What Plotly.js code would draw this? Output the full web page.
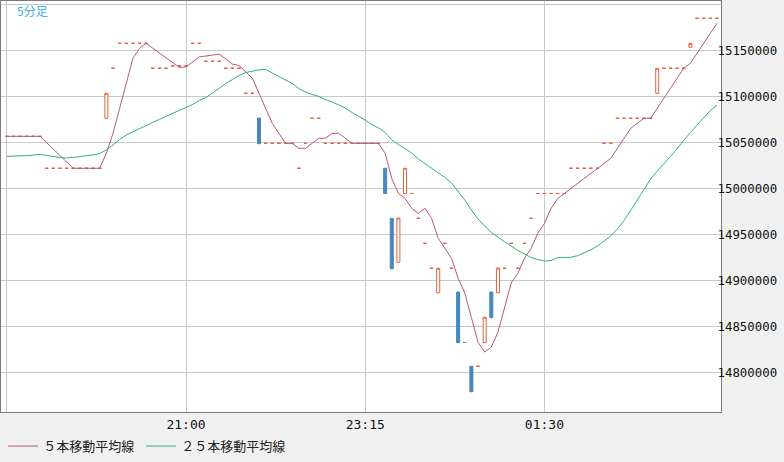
<!DOCTYPE html>
<html>
<head>
<meta charset="utf-8">
<script src="https://cdn.plot.ly/plotly-3.0.1.min.js"></script>
<style>
html,body{margin:0;padding:0;background:#f0f0f0;}
#chart{width:784px;height:462px;}
</style>
</head>
<body>
<div id="chart"></div>
<script>
// ---- data (5-minute candles starting 18:45) ----
const startTime = Date.UTC(2014, 2, 10, 18, 45);
const stepMinutes = 5;

const openPrices = [
  15056500,15056500,15056500,15056500,15056500,15056500,15021800,15021800,15021800,15021800,
  15021800,15021800,15021800,15021800,15021800,15076100,15130500,15157600,15157600,15157600,
  15157600,15157600,15130500,15130500,15130500,15133000,15133000,15133000,15157600,15157600,
  15138100,15138100,15138100,15130500,15130500,15130500,15103300,15103300,15076400,15048900,
  15048900,15048900,15048900,15048900,15021800,15048900,15076100,15076100,15048900,15048900,
  15048900,15048900,15048900,15048900,15048900,15048900,15048900,15021800,14967400,14919600,
  14994400,14994400,14967400,14940200,14913100,14886500,14940200,14913100,14887300,14832400,
  14806500,14806500,14832200,14887300,14886500,14913100,14940200,14913100,14940200,14967400,
  14994400,14994400,14994400,14994400,14994400,15021800,15021800,15021800,15021800,15021800,
  15048900,15048900,15076100,15076100,15076100,15076100,15076100,15076100,15103300,15130500,
  15130500,15130500,15130500,15153300,15184800,15184800,15184800,15184800
];
const highPrices = [
  15056500,15056500,15056500,15056500,15056500,15056500,15021800,15021800,15021800,15021800,
  15021800,15021800,15021800,15021800,15021800,15103300,15130500,15157600,15157600,15157600,
  15157600,15157600,15130500,15130500,15130500,15133000,15133000,15133000,15157600,15157600,
  15138100,15138100,15138100,15130500,15130500,15130500,15103300,15103300,15076400,15048900,
  15048900,15048900,15048900,15048900,15021800,15048900,15076100,15076100,15048900,15048900,
  15048900,15048900,15048900,15048900,15048900,15048900,15048900,15021800,14967400,14967700,
  15021800,14994400,14967400,14940200,14913100,14913100,14940200,14913100,14887300,14832400,
  14806500,14806500,14859800,14887300,14913400,14913100,14940200,14913100,14940200,14967400,
  14994400,14994400,14994400,14994400,14994400,15021800,15021800,15021800,15021800,15021800,
  15048900,15048900,15076100,15076100,15076100,15076100,15076100,15076100,15130500,15130500,
  15130500,15130500,15130500,15157600,15184800,15184800,15184800,15184800
];
const lowPrices = [
  15056500,15056500,15056500,15056500,15056500,15056500,15021800,15021800,15021800,15021800,
  15021800,15021800,15021800,15021800,15021800,15076100,15130500,15157600,15157600,15157600,
  15157600,15157600,15130500,15130500,15130500,15133000,15133000,15133000,15157600,15157600,
  15138100,15138100,15138100,15130500,15130500,15130500,15103300,15103300,15048500,15048900,
  15048900,15048900,15048900,15048900,15021800,15048900,15076100,15076100,15048900,15048900,
  15048900,15048900,15048900,15048900,15048900,15048900,15048900,14994400,14912600,14919600,
  14994400,14994400,14967400,14940200,14913100,14886500,14940200,14913100,14832200,14832400,
  14778900,14806500,14832200,14859400,14886500,14913100,14940200,14913100,14940200,14967400,
  14994400,14994400,14994400,14994400,14994400,15021800,15021800,15021800,15021800,15021800,
  15048900,15048900,15076100,15076100,15076100,15076100,15076100,15076100,15103300,15130500,
  15130500,15130500,15130500,15153300,15184800,15184800,15184800,15184800
];
const closePrices = [
  15056500,15056500,15056500,15056500,15056500,15056500,15021800,15021800,15021800,15021800,
  15021800,15021800,15021800,15021800,15021800,15103300,15130500,15157600,15157600,15157600,
  15157600,15157600,15130500,15130500,15130500,15133000,15133000,15133000,15157600,15157600,
  15138100,15138100,15138100,15130500,15130500,15130500,15103300,15103300,15048500,15048900,
  15048900,15048900,15048900,15048900,15021800,15048900,15076100,15076100,15048900,15048900,
  15048900,15048900,15048900,15048900,15048900,15048900,15048900,14994400,14912600,14967700,
  15021800,14994400,14967400,14940200,14913100,14913100,14940200,14913100,14832200,14832400,
  14778900,14806500,14859800,14859400,14913400,14913100,14940200,14913100,14940200,14967400,
  14994400,14994400,14994400,14994400,14994400,15021800,15021800,15021800,15021800,15021800,
  15048900,15048900,15076100,15076100,15076100,15076100,15076100,15076100,15130500,15130500,
  15130500,15130500,15130500,15157600,15184800,15184800,15184800,15184800
];
// 5本移動平均線
const ma5 = [
  15056500,15056500,15056500,15056500,15056500,15056500,15049600,15042600,15035700,15028700,
  15021800,15021800,15021800,15021800,15021800,15038100,15059800,15087000,15114200,15141300,
  15152200,15157600,15152200,15146800,15141300,15136400,15131400,15132000,15137400,15142900,
  15143800,15144900,15145900,15140500,15135000,15133500,15126500,15119600,15103200,15086900,
  15070600,15059700,15048800,15048900,15043500,15043500,15048900,15054400,15054400,15059800,
  15059800,15054400,15048900,15048900,15048900,15048900,15048900,15038100,15010800,14994500,
  14989100,14978300,14972800,14978400,14967400,14945700,14934800,14923900,14902300,14886200,
  14859400,14832600,14822000,14827400,14843600,14870400,14897200,14907800,14924000,14934800,
  14951100,14961900,14978200,14988900,14994400,14999800,15005300,15010800,15016300,15021800,
  15027200,15032600,15043500,15054400,15065200,15070700,15076100,15076100,15087000,15097800,
  15108700,15119600,15130500,15135900,15146800,15157600,15168500,15179400
];
// ２５本移動平均線
const ma25 = [
  15034800,15034800,15035100,15035500,15036200,15036800,15035700,15034400,15033500,15033000,
  15033300,15034400,15035500,15036200,15037800,15041700,15047100,15053100,15058000,15061500,
  15065000,15068800,15071800,15075000,15078300,15081300,15084600,15087800,15091100,15095500,
  15098700,15103600,15109000,15113900,15118300,15122600,15125900,15127700,15128800,15129200,
  15125300,15122100,15118100,15113900,15108500,15104700,15102000,15099800,15096500,15094000,
  15090600,15087300,15082400,15078600,15074300,15069400,15065600,15060700,15052500,15047600,
  15043000,15038400,15031900,15027000,15021500,15016600,15011800,15005800,14997100,14987300,
  14976400,14966600,14959000,14952000,14947100,14941600,14937300,14932400,14928600,14924800,
  14922600,14921000,14921500,14924600,14924800,14925100,14926800,14929700,14933000,14937300,
  14942700,14948200,14955800,14965000,14975900,14987800,14999300,15010100,15018800,15026400,
  15034600,15043300,15052500,15060700,15068800,15077000,15084600,15090600
];
const yTickVals = [14800000,14850000,14900000,14950000,15000000,15050000,15100000,15150000,15200000];
const yTickText = ['14800000','14850000','14900000','14950000','15000000','15050000','15100000','15150000',''];
const xTickTimes = ['18:45','21:00','23:15','01:30'];
const xTickText = ['','21:00','23:15','01:30'];
const seriesNames = ['５本移動平均線','２５本移動平均線'];

// ---- helpers ----
function fmt(ms){ return new Date(ms).toISOString().slice(0,19).replace('T',' '); }
const times = openPrices.map((_, i) => fmt(startTime + i*stepMinutes*60000));
const xTickVals = xTickTimes.map((t) => {
  const [h, m] = t.split(':').map(Number);
  const dayOffset = h < 12 ? 1 : 0;
  return fmt(Date.UTC(2014, 2, 10 + dayOffset, h, m));
});
const minutePx = 6.637 / 5; // px per minute
const rangeStart = fmt(startTime - (5.8 / minutePx) * 60000);
const rangeEnd = fmt(startTime + (714.2 / minutePx) * 60000);

const UP = '#e0623e', DOWN = '#4a86bd';
function pick(cond){
  const idx = openPrices.map((o,i)=>i).filter(i=>cond(openPrices[i], closePrices[i]));
  return {
    x: idx.map(i=>times[i]), open: idx.map(i=>openPrices[i]), high: idx.map(i=>highPrices[i]),
    low: idx.map(i=>lowPrices[i]), close: idx.map(i=>closePrices[i])
  };
}
function candle(d, incColor, incFill, decColor, decFill){
  return Object.assign({
    type:'candlestick', showlegend:false, hoverinfo:'skip', whiskerwidth:0,
    increasing:{line:{color:incColor,width:1}, fillcolor:incFill},
    decreasing:{line:{color:decColor,width:1}, fillcolor:decFill}
  }, d);
}
const traces = [
  candle(pick((o,c)=>c>o), UP, '#ffffff', UP, '#ffffff'),
  candle(pick((o,c)=>c<o), DOWN, DOWN, DOWN, DOWN),
  candle(pick((o,c)=>c===o), UP, UP, UP, UP),
  {type:'scatter', mode:'lines', x:times, y:ma5, name:seriesNames[0], legend:'legend',
   line:{color:'#b5587c', width:1}, hoverinfo:'skip'},
  {type:'scatter', mode:'lines', x:times, y:ma25, name:seriesNames[1], legend:'legend2',
   line:{color:'#2bb27b', width:1}, hoverinfo:'skip'}
];

const legendFont = {family:'Noto Sans CJK JP', size:13, color:'#222222'};
const layout = {
  width:784, height:462,
  paper_bgcolor:'#f0f0f0', plot_bgcolor:'#ffffff',
  margin:{l:1, r:63, t:1, b:50},
  boxgap:0.35,
  showlegend:true,
  legend:{orientation:'h', x:0.003, xanchor:'left', y:-0.083, yanchor:'middle',
    bgcolor:'rgba(0,0,0,0)', font:legendFont, itemwidth:30},
  legend2:{orientation:'h', x:0.1947, xanchor:'left', y:-0.083, yanchor:'middle',
    bgcolor:'rgba(0,0,0,0)', font:legendFont, itemwidth:30},
  xaxis:{type:'date', range:[rangeStart, rangeEnd], rangeslider:{visible:false},
    tickvals:xTickVals, ticktext:xTickText, ticks:'', showgrid:true, gridcolor:'#c8c8c8', gridwidth:1,
    showline:true, mirror:true, linecolor:'#7a7a7a', linewidth:1, zeroline:false,
    tickfont:{family:'DejaVu Sans Mono', size:13, color:'#111111'}, fixedrange:true},
  yaxis:{side:'right', range:[14756856, 15203613], tickvals:yTickVals, ticktext:yTickText,
    ticks:'', showgrid:true, gridcolor:'#c8c8c8', gridwidth:1, ticklabelstandoff:-7,
    showline:true, mirror:true, linecolor:'#7a7a7a', linewidth:1, zeroline:false,
    tickfont:{family:'DejaVu Sans Mono', size:12.4, color:'#111111'}, fixedrange:true},
  annotations:[{text:'5分足', xref:'paper', yref:'paper', x:0.019, y:0.978,
    xanchor:'left', yanchor:'middle', showarrow:false,
    font:{family:'Noto Sans CJK JP', size:12, color:'#3aaee6'}}]
};
Plotly.newPlot('chart', traces, layout, {staticPlot:true, displayModeBar:false});
</script>
</body>
</html>
